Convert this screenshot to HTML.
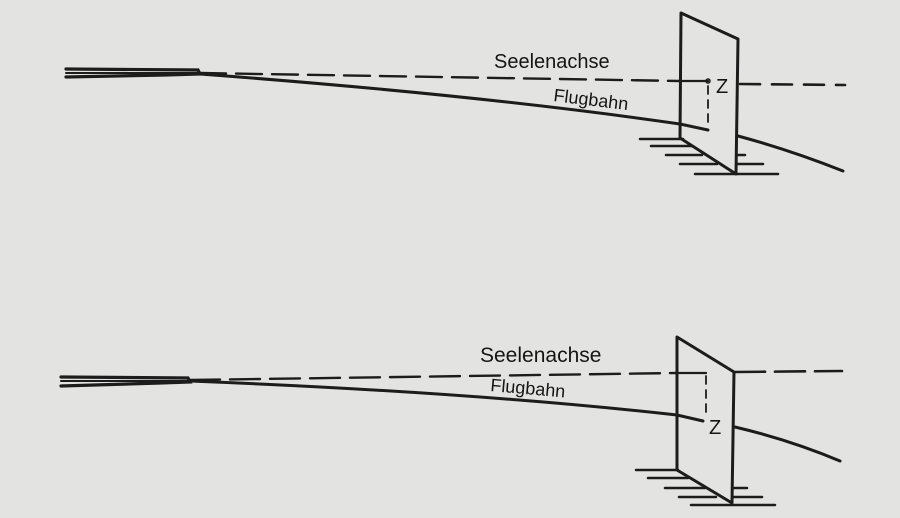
<!DOCTYPE html>
<html><head><meta charset="utf-8"><style>
html,body{margin:0;padding:0;background:#e3e3e1;}
svg{display:block}
text{font-family:"Liberation Sans","DejaVu Sans",sans-serif;fill:#151515}
</style></head><body>
<svg width="900" height="518" viewBox="0 0 900 518" xmlns="http://www.w3.org/2000/svg">
<rect width="900" height="518" fill="#e3e3e1"/>
<g stroke="#1c1c1c" fill="none" stroke-linecap="round">
<!-- TOP -->
<path d="M66 69 L198 70 L200 74 L165 75 L66 77" stroke-width="3.2"/>
<path d="M66 73 L198 73" stroke-width="2"/>
<path d="M200 73 L680 81" stroke-width="2.4" stroke-dasharray="26 10"/>
<path d="M680 81 L708 81" stroke-width="2.2"/>
<circle cx="708" cy="81" r="2" stroke-width="1.5"/>
<path d="M740 84 L845 85" stroke-width="2.6" stroke-dasharray="20 12"/>
<path d="M708 86 L708 128" stroke-width="1.8" stroke-dasharray="8 6"/>
<path d="M200 74 Q480 95 680 124 L708 130" stroke-width="3"/>
<path d="M738 136 Q790 150 843 171" stroke-width="3"/>
<path d="M680 138 L681 13 L738 39 L736 174 L680 138" stroke-width="3" stroke-linejoin="round"/>
<path d="M640 139 L683 139 M651 146 L692 146 M666 155 L702 155 M737 155 L745 155 M680 164 L717 164 M737 164 L763 164 M695 174 L778 174" stroke-width="2.5"/>
<!-- BOTTOM -->
<path d="M61 377 L188 378 L190 382 L160 383 L61 386" stroke-width="3.2"/>
<path d="M61 381 L188 381" stroke-width="2"/>
<path d="M190 380 L677 373" stroke-width="2.4" stroke-dasharray="30 10"/>
<path d="M677 373 L706 373" stroke-width="2.2"/>
<path d="M735 372 L842 371" stroke-width="2.6" stroke-dasharray="30 10"/>
<path d="M706 376 L706 418" stroke-width="1.8" stroke-dasharray="8 6"/>
<path d="M190 381 Q470 392 677 415 L703 421" stroke-width="3"/>
<path d="M735 427 Q790 440 840 461" stroke-width="3"/>
<path d="M677 470 L677 337 L734 372 L732 503 L677 470" stroke-width="3" stroke-linejoin="round"/>
<path d="M636 470 L678 470 M648 478 L688 478 M665 488 L705 488 M733 488 L747 488 M679 497 L716 497 M733 497 L762 497 M691 505 L775 505" stroke-width="2.5"/>
</g>
<text x="494" y="68" font-size="20">Seelenachse</text>
<text x="553" y="101" font-size="18" transform="rotate(7 553 101)">Flugbahn</text>
<text x="716" y="93" font-size="20">Z</text>
<text x="480" y="362" font-size="21">Seelenachse</text>
<text x="490" y="391" font-size="18" transform="rotate(5 490 391)">Flugbahn</text>
<text x="709" y="434" font-size="20">Z</text>
</svg>
</body></html>
